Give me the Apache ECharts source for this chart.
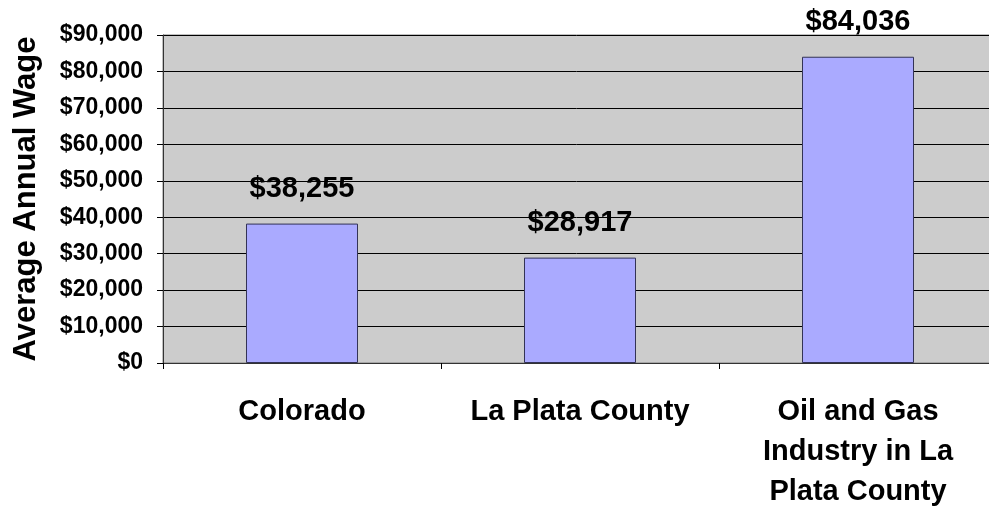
<!DOCTYPE html>
<html>
<head>
<meta charset="utf-8">
<script src="https://cdn.jsdelivr.net/npm/echarts@6/dist/echarts.min.js"></script>
<style>
  html, body { margin: 0; padding: 0; background: #fff; }
  #main { width: 989px; height: 508px; }
</style>
</head>
<body>
<div id="main"></div>
<script>
var categories = ["Colorado", "La Plata County", "Oil and Gas\nIndustry in La\nPlata County"];
var wages = [38255, 28917, 84036];
var yTicks = [0, 10000, 20000, 30000, 40000, 50000, 60000, 70000, 80000, 90000];

function money(v) {
  return "$" + v.toString().replace(/\B(?=(\d{3})+(?!\d))/g, ",");
}

var myChart = echarts.init(document.getElementById("main"));
var option = {
  animation: false,
  textStyle: { fontFamily: "Liberation Sans, Arial, sans-serif" },
  grid: {
    left: 163,
    right: -8,
    top: 35,
    bottom: 145,
    outerBoundsMode: "none",
    containLabel: false,
    show: true,
    backgroundColor: "#CCCCCC",
    borderColor: "#808080",
    borderWidth: 1
  },
  xAxis: {
    type: "category",
    data: categories,
    axisLine: { lineStyle: { color: "#333333", width: 1 } },
    axisTick: { show: true, length: 6, lineStyle: { color: "#000" } },
    axisLabel: {
      color: "#000",
      fontWeight: "bold",
      fontSize: 29,
      lineHeight: 40,
      margin: 29,
      interval: 0
    }
  },
  yAxis: {
    type: "value",
    min: yTicks[0],
    max: yTicks[yTicks.length - 1],
    interval: 10000,
    name: "Average Annual Wage",
    nameLocation: "middle",
    nameGap: 121,
    nameTextStyle: { color: "#000", fontWeight: "bold", fontSize: 31 },
    axisLine: { show: true, lineStyle: { color: "#333333" } },
    axisTick: { show: true, length: 6, lineStyle: { color: "#000" } },
    axisLabel: {
      color: "#000",
      fontWeight: "bold",
      fontSize: 23,
      margin: 20,
      formatter: function (v) { return money(v); }
    },
    splitLine: { lineStyle: { color: "#000", width: 1 } }
  },
  series: [{
    type: "bar",
    data: wages,
    barWidth: 112,
    itemStyle: {
      color: "#AAAAFF",
      borderColor: "#333355",
      borderWidth: 1
    },
    label: {
      show: true,
      position: "top",
      distance: 20,
      color: "#000",
      fontWeight: "bold",
      fontSize: 29,
      formatter: function (p) { return money(p.value); }
    }
  }]
};
myChart.setOption(option);
</script>
</body>
</html>
